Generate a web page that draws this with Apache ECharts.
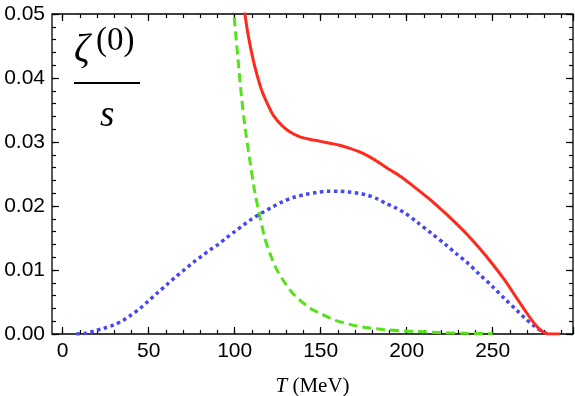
<!DOCTYPE html>
<html>
<head>
  <meta charset="UTF-8">
  <title>zeta0 / s</title>
  <script src="https://cdn.jsdelivr.net/npm/echarts@6/dist/echarts.min.js"></script>
  <style>
    html, body { margin: 0; padding: 0; background: #fff; }
    #main { width: 575px; height: 396px; }
  </style>
</head>
<body>
<div id="main"></div>
<script>
  // ticks
  const xTickLabels = [0, 50, 100, 150, 200, 250];
  const xMajorStep = 50, xMinorStep = 10;
  const yMajorStep = 0.01, yMinorStep = 0.002;

  // [T (MeV), zeta/s]
  const redSolid = [
    [104, 0.056], [106, 0.05], [108, 0.0465], [110.8, 0.0428], [113, 0.0405], [115.7, 0.0381],
    [119, 0.036], [122.4, 0.0342], [127, 0.0327], [132, 0.0316], [138, 0.0308], [144, 0.0304],
    [150, 0.0301], [155.4, 0.0298], [161, 0.0295], [167, 0.029], [173, 0.0284], [179, 0.0276],
    [185, 0.0266], [190, 0.0257], [196, 0.0247], [202, 0.0235], [208, 0.0222], [215, 0.0207],
    [222, 0.019], [229, 0.0172], [235, 0.0156], [242, 0.0135], [250, 0.0109], [257, 0.0084],
    [264, 0.0056], [269, 0.0036], [273.5, 0.0019], [277, 0.0008], [280, 0.0002], [282, 0], [289, 0]
  ];
  const greenDashed = [
    [98, 0.056], [99.6, 0.05], [102, 0.0428], [104, 0.037], [106, 0.0324], [108.9, 0.027],
    [111.5, 0.0225], [114.7, 0.0183], [117.5, 0.015], [120.5, 0.0126], [124, 0.0103],
    [128.2, 0.0084], [133, 0.0066], [137.9, 0.0053], [144, 0.004], [151.5, 0.003], [159, 0.0021],
    [167, 0.0015], [176, 0.001], [186.4, 0.0007], [196, 0.0005], [205.8, 0.0004], [220, 0.0002],
    [235, 0.0001], [250, 0.00005]
  ];
  const blueDotted = [
    [8, 0], [13, 0.0001], [18.8, 0.0005], [24, 0.0009], [29.5, 0.0014], [35, 0.0021], [40, 0.003],
    [45, 0.004], [50, 0.0052], [55, 0.0064], [60.5, 0.0077], [66, 0.009], [71, 0.0101], [76, 0.0112],
    [81, 0.0122], [86, 0.0132], [90.5, 0.014], [95, 0.015], [100, 0.016], [105, 0.017], [109, 0.0178],
    [115, 0.0188], [121, 0.0197], [128, 0.0207], [135, 0.0214], [141, 0.0218], [147.6, 0.0221],
    [154, 0.0223], [160, 0.0223], [166, 0.0222], [172, 0.022], [177, 0.0217], [183, 0.0211],
    [188, 0.0204], [193, 0.0198], [199, 0.0189], [206, 0.0175], [215, 0.0156], [223, 0.0139],
    [229, 0.0125], [235, 0.0112], [242, 0.0094], [250, 0.0074], [257, 0.0055], [264, 0.0037],
    [269, 0.0024], [273.5, 0.0014], [277, 0.0007], [280, 0.0002], [283, 0]
  ];

  const X_MIN = -6.2, X_MAX = 296.7;
  const Y_MIN = 0, Y_MAX = 0.05;
  const sansFont = 'Liberation Sans';
  const serifFont = 'Liberation Serif';

  // plot frame in px
  const G = { left: 52, right: 2, top: 14, bottom: 62 };
  const W = 575 - G.left - G.right, H = 396 - G.top - G.bottom;
  // tick strips along x start exactly at T = 0 so split lines land on 0, 10, 20 ...
  const leftAtZero = G.left + (0 - X_MIN) / (X_MAX - X_MIN) * W;
  const MAJ = 7, MIN = 4;

  // inward ticks drawn as split lines of thin grids lying along the frame
  const stripGrids = [
    { left: leftAtZero, right: G.right, top: G.top + H - MAJ, height: MAJ },   // 1 bottom major
    { left: leftAtZero, right: G.right, top: G.top + H - MIN, height: MIN },   // 2 bottom minor
    { left: leftAtZero, right: G.right, top: G.top, height: MAJ },             // 3 top major
    { left: leftAtZero, right: G.right, top: G.top, height: MIN },             // 4 top minor
    { left: G.left, width: MAJ, top: G.top, bottom: G.bottom },                // 5 left major
    { left: G.left, width: MIN, top: G.top, bottom: G.bottom },                // 6 left minor
    { left: G.left + W - MAJ, width: MAJ, top: G.top, bottom: G.bottom },      // 7 right major
    { left: G.left + W - MIN, width: MIN, top: G.top, bottom: G.bottom }       // 8 right minor
  ];

  function splitAxis(gridIndex, min, max, step) {
    return {
      type: 'value', gridIndex: gridIndex, min: min, max: max, interval: step,
      axisLine: { show: false },
      axisTick: { show: false },
      axisLabel: { show: false },
      splitLine: { show: true, lineStyle: { color: '#000', width: 1.2, type: 'solid' } }
    };
  }
  function blankAxis(gridIndex) {
    return {
      type: 'value', gridIndex: gridIndex, min: 0, max: 1,
      axisLine: { show: false }, axisTick: { show: false },
      axisLabel: { show: false }, splitLine: { show: false }
    };
  }

  let myChart = echarts.init(document.getElementById('main'), null, { renderer: 'canvas' });
  let option = {
    animation: false,
    backgroundColor: '#fff',
    grid: [{
      left: G.left, right: G.right, top: G.top, bottom: G.bottom,
      outerBoundsMode: 'none',
      show: true, borderColor: '#000', borderWidth: 1.3, backgroundColor: 'transparent'
    }].concat(stripGrids),
    xAxis: [{
      type: 'value', gridIndex: 0, position: 'bottom',
      min: X_MIN, max: X_MAX,
      axisLine: { show: false, onZero: false },
      splitLine: { show: false },
      axisTick: { show: false },
      axisLabel: {
        show: true, customValues: xTickLabels, color: '#000',
        fontFamily: sansFont, fontSize: 21, margin: 7
      },
      name: '{i|T} (MeV)',
      nameLocation: 'middle',
      nameGap: 42,
      nameTextStyle: {
        fontFamily: serifFont, fontSize: 21, color: '#000',
        rich: { i: { fontFamily: serifFont, fontStyle: 'italic', fontSize: 21, color: '#000' } }
      }
    },
      splitAxis(1, 0, X_MAX, xMajorStep),
      splitAxis(2, 0, X_MAX, xMinorStep),
      splitAxis(3, 0, X_MAX, xMajorStep),
      splitAxis(4, 0, X_MAX, xMinorStep),
      blankAxis(5), blankAxis(6), blankAxis(7), blankAxis(8)
    ],
    yAxis: [{
      type: 'value', gridIndex: 0, position: 'left',
      min: Y_MIN, max: Y_MAX, interval: yMajorStep,
      axisLine: { show: false, onZero: false },
      splitLine: { show: false },
      axisTick: { show: false },
      axisLabel: {
        show: true, color: '#000', fontFamily: sansFont, fontSize: 21, margin: 7,
        formatter: function (v) { return v.toFixed(2); }
      }
    },
      blankAxis(1), blankAxis(2), blankAxis(3), blankAxis(4),
      splitAxis(5, Y_MIN, Y_MAX, yMajorStep),
      splitAxis(6, Y_MIN, Y_MAX, yMinorStep),
      splitAxis(7, Y_MIN, Y_MAX, yMajorStep),
      splitAxis(8, Y_MIN, Y_MAX, yMinorStep)
    ],
    graphic: [
      { type: 'text', left: 74, top: 31, style: { text: 'ζ', font: 'italic 39px ' + serifFont, fill: '#000' } },
      { type: 'text', left: 96, top: 25, style: { text: '(0)', font: '33px ' + serifFont, fill: '#000' } },
      { type: 'line', shape: { x1: 74, y1: 83, x2: 140, y2: 83 }, style: { stroke: '#000', lineWidth: 2 } },
      { type: 'text', left: 100, top: 98, style: { text: 's', font: 'italic 37px ' + serifFont, fill: '#000' } }
    ],
    series: [{
      name: 'green',
      type: 'line',
      xAxisIndex: 0, yAxisIndex: 0,
      showSymbol: false,
      smooth: 0.3,
      clip: true,
      lineStyle: { color: '#55e21a', width: 3, type: [9, 5] },
      data: greenDashed
    }, {
      name: 'blue',
      type: 'line',
      xAxisIndex: 0, yAxisIndex: 0,
      showSymbol: false,
      smooth: 0.3,
      clip: true,
      lineStyle: { color: '#4848f2', width: 3.5, type: [3.5, 3.5] },
      data: blueDotted
    }, {
      name: 'red',
      type: 'line',
      xAxisIndex: 0, yAxisIndex: 0,
      showSymbol: false,
      smooth: 0.3,
      clip: true,
      lineStyle: { color: '#ff2a1c', width: 3 },
      data: redSolid
    }]
  };
  myChart.setOption(option);
</script>
</body>
</html>
